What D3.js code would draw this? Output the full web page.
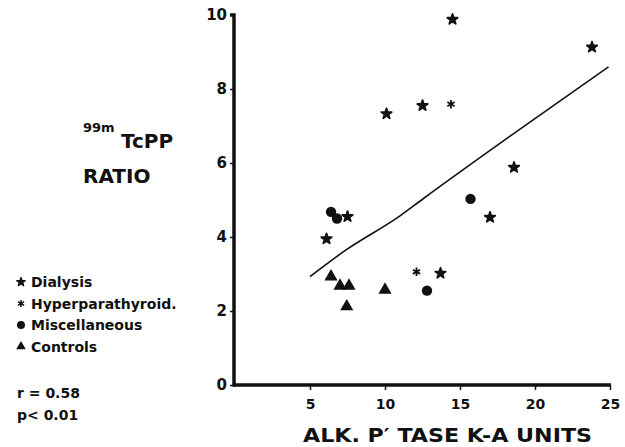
<!DOCTYPE html>
<html><head><meta charset="utf-8">
<script src="https://cdn.jsdelivr.net/npm/d3@7"></script>
<style>
body{margin:0;background:#fff;}
text{font-family:"DejaVu Sans",sans-serif;font-weight:bold;fill:#111;}
</style></head>
<body><svg id="c" width="625" height="447"></svg>
<script>
const dialysis = [[14.5,9.88],[23.8,9.13],[10.1,7.33],[12.5,7.55],[18.6,5.88],[17.0,4.53],[7.5,4.55],[6.1,3.95],[13.7,3.02]];
const hyperpara = [[12.1,3.06],[14.4,7.59]];
const misc = [[6.4,4.68],[6.8,4.5],[15.7,5.03],[12.8,2.55]];
const controls = [[6.4,2.93],[7.0,2.68],[7.6,2.68],[10.0,2.57],[7.45,2.12]];
const fitLine = [[5.0,2.93],[7.4,3.65],[11.0,4.57],[12.5,5.02],[18.6,6.8],[24.9,8.6]];
const xTicks = [5,10,15,20,25];
const yTicks = [0,2,4,6,8,10];
const legendLabels = ["Dialysis","Hyperparathyroid.","Miscellaneous","Controls"];

const svg = d3.select("#c");
const x = d3.scaleLinear().domain([0,25]).range([235,610]);
const y = d3.scaleLinear().domain([0,10]).range([385,15]);

// axes
const xAxis = d3.axisBottom(x).tickValues(xTicks).tickSize(5).tickPadding(9).tickFormat(d3.format("d"));
const gx = svg.append("g").attr("transform","translate(0,385)").call(xAxis);
gx.select(".domain").attr("stroke","#111").attr("stroke-width",3.5).attr("d","M233,0H611");
gx.selectAll(".tick line").attr("stroke","#111").attr("stroke-width",1.5);
gx.selectAll(".tick text").style("font-size","14px").style("font-family","DejaVu Sans").style("font-weight","bold").attr("fill","#111");

const yAxis = d3.axisLeft(y).tickValues(yTicks).tickSize(4).tickPadding(3).tickFormat(d3.format("d"));
const gy = svg.append("g").attr("transform","translate(234,0)").call(yAxis);
gy.select(".domain").attr("stroke","#111").attr("stroke-width",3.5).attr("d","M-4,"+y(10)+"H0V"+(y(0)+1.5));
gy.selectAll(".tick line").attr("stroke","#111").attr("stroke-width",1.5);
gy.selectAll(".tick text").style("font-size","15px").style("font-family","DejaVu Sans").style("font-weight","bold").attr("fill","#111");

// fit line
svg.append("path").datum(fitLine)
  .attr("d",d3.line().x(d=>x(d[0])).y(d=>y(d[1])).curve(d3.curveMonotoneX))
  .attr("fill","none").attr("stroke","#111").attr("stroke-width",1.6);

// markers
const starSym = d3.symbol().type(d3.symbolStar).size(34);
const astSym = d3.symbol().type(d3.symbolAsterisk).size(50);
const circSym = d3.symbol().type(d3.symbolCircle).size(85);
const triSym = d3.symbol().type(d3.symbolTriangle).size(75);

function plot(data, sym, stroke){
  svg.append("g").selectAll("path").data(data).join("path")
    .attr("transform",d=>`translate(${x(d[0])},${y(d[1])})`)
    .attr("d",sym).attr("fill","#111")
    .attr("stroke",stroke?"#111":"none").attr("stroke-width",stroke||0).attr("stroke-linejoin","round");
}
plot(dialysis, starSym, 1.8);
plot(hyperpara, astSym, 1.8);
plot(misc, circSym);
plot(controls, triSym);

// y title
svg.append("text").attr("x",83).attr("y",132).style("font-size","13px").text("99m");
svg.append("text").attr("x",121).attr("y",148).style("font-size","20px").text("TcPP");
svg.append("text").attr("x",83).attr("y",183).style("font-size","20px").text("RATIO");

// legend
legendLabels.forEach((l,i)=>{
  const yy = 287 + i*21.5;
  const s = [d3.symbol().type(d3.symbolStar).size(22), d3.symbol().type(d3.symbolAsterisk).size(36), d3.symbol().type(d3.symbolCircle).size(50), d3.symbol().type(d3.symbolTriangle).size(40)][i];
  svg.append("path").attr("d",s).attr("transform",`translate(21,${yy-5})`).attr("fill","#111")
    .attr("stroke",i<2?"#111":"none").attr("stroke-width",i==1?1.5:1.4).attr("stroke-linejoin","round");
  svg.append("text").attr("x",31).attr("y",yy).style("font-size","14px").text(l);
});

svg.append("text").attr("x",17).attr("y",398).style("font-size","14px").text("r = 0.58");
svg.append("text").attr("x",17).attr("y",420).style("font-size","14px").text("p< 0.01");

// x title
svg.append("text").attr("x",303).attr("y",442).style("font-size","19px").attr("textLength",289).attr("lengthAdjust","spacingAndGlyphs")
  .text("ALK.  P\u2032 TASE  K-A  UNITS");
</script></body></html>
